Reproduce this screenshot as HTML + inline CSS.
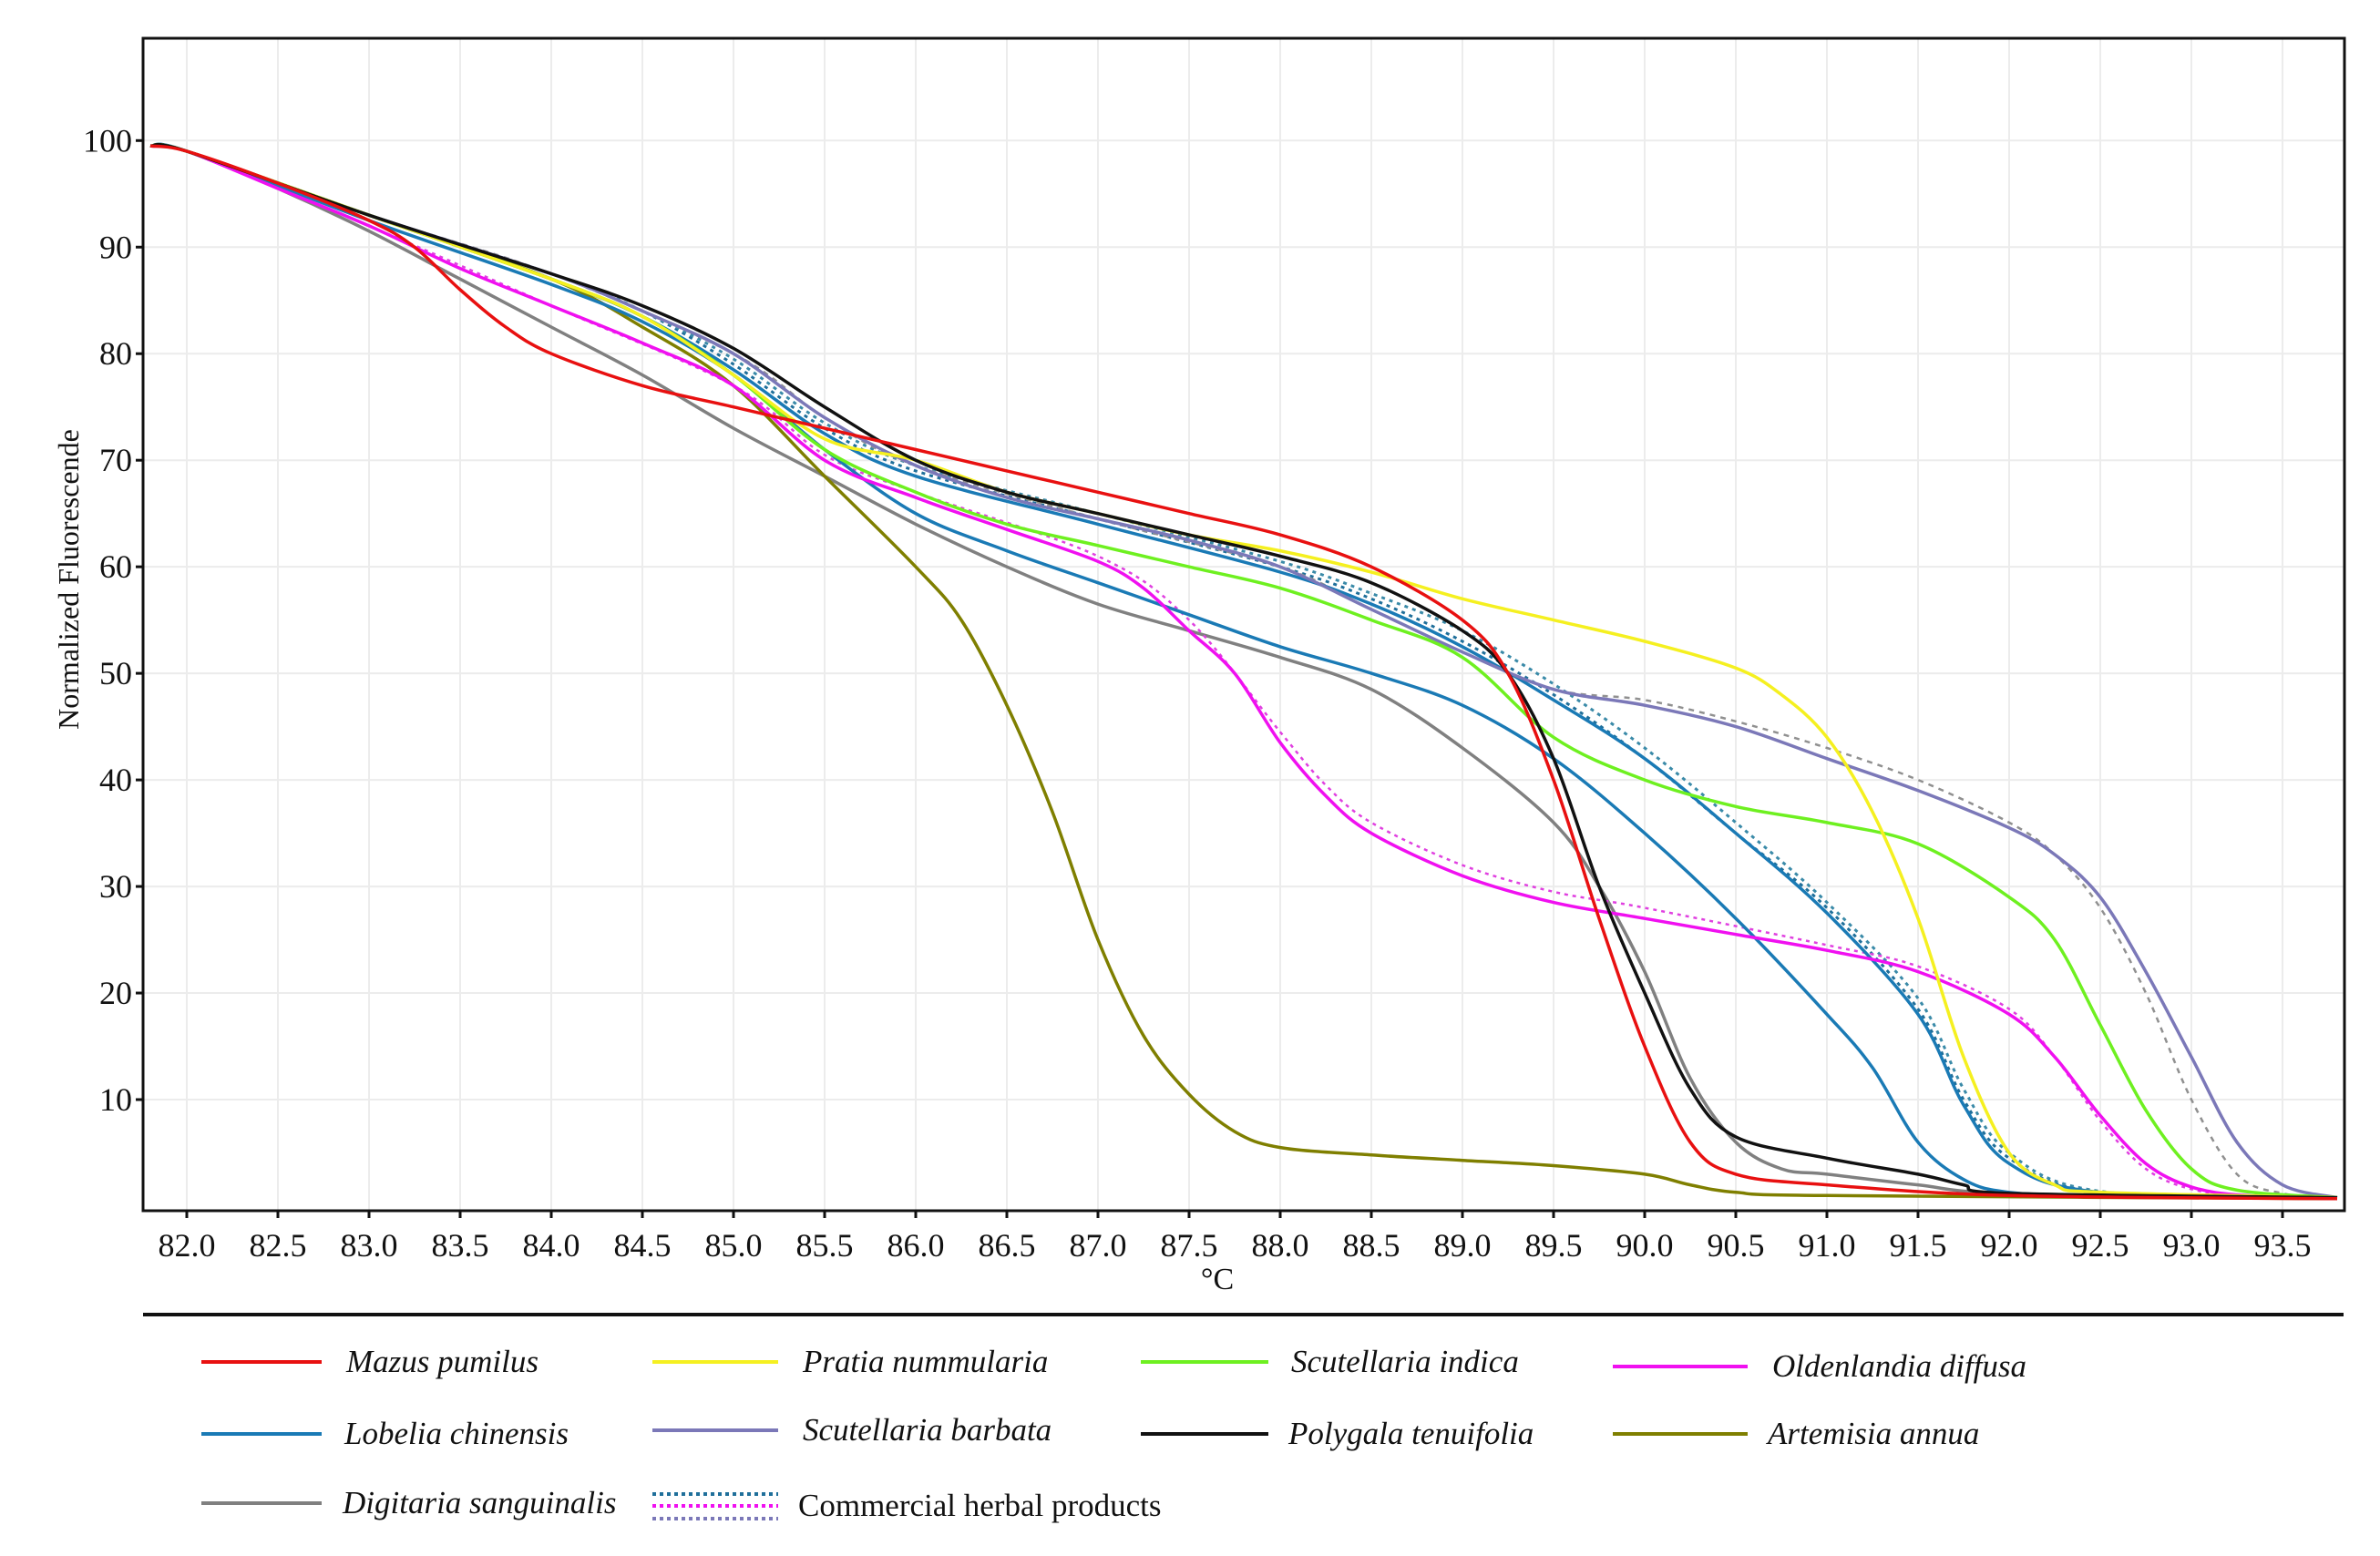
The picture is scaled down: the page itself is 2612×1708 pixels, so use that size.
<!DOCTYPE html>
<html><head><meta charset="utf-8"><style>
html,body{margin:0;padding:0;background:#fff;}
svg text{font-family:"Liberation Serif",serif;fill:#111;}
</style></head><body>
<svg id="chart" width="2612" height="1703" viewBox="0 0 2612 1703" xmlns="http://www.w3.org/2000/svg">
<g id="grid"></g>
<g id="series"></g>
<g id="axes"></g>
<g id="legend"></g>
</svg>
<script>
const xTicks=[82.0,82.5,83.0,83.5,84.0,84.5,85.0,85.5,86.0,86.5,87.0,87.5,88.0,88.5,89.0,89.5,90.0,90.5,91.0,91.5,92.0,92.5,93.0,93.5];
const yTicks=[10,20,30,40,50,60,70,80,90,100];
const mazusX=[81.8,82,82.5,83,83.25,83.5,83.75,84,84.5,85,85.5,86,86.5,87,87.5,88,88.5,89,89.25,89.5,89.75,90,90.25,90.5,91,92,93.8];
const mazusY=[99.5,99,96,92.5,90,86,82.5,80,77,75,73,71,69,67,65,63,60,55,50,40,27,15,6,3,2,1,0.7];
const pratiaX=[81.8,82,83,84,84.5,85,85.5,86,86.5,87,87.5,88,88.5,89,89.5,90,90.5,90.75,91,91.25,91.5,91.75,92,92.25,92.5,93.8];
const pratiaY=[99.5,99,93,87,83.5,78,72,70,67,65,63,61.5,59.5,57,55,53,50.5,48,44,37,27,14,5,2,1.3,0.8];
const indicaX=[81.8,82,83,84,84.5,85,85.5,86,86.5,87,87.5,88,88.5,89,89.5,90,90.5,91,91.5,92,92.25,92.5,92.75,93,93.25,93.8];
const indicaY=[99.5,99,93,87,83.5,78,71,67,64,62,60,58,55,51.5,44,40,37.5,36,34,29,25,17,9,3.5,1.5,0.8];
const oldenX=[81.8,82,82.5,83,83.5,84,84.5,85,85.5,86,86.5,87,87.25,87.5,87.75,88,88.25,88.5,89,89.5,90,90.5,91,91.5,92,92.25,92.5,92.75,93,93.3,93.8];
const oldenY=[99.5,99,95.5,92,88,84.5,81,77,70,66.5,63.5,60.5,58,54,50,43.5,38.5,35,31,28.5,27,25.5,24,22,18,14,8.5,4,1.8,1,0.8];
const lobeliaX=[81.8,82,83,84,84.5,85,85.5,86,86.5,87,87.5,88,88.5,89,89.5,90,90.5,91,91.25,91.5,91.75,92,92.5,93.8];
const lobeliaY=[99.5,99,92.5,86.5,83,78,71,65,61.5,58.5,55.5,52.5,50,47,42,35,27,18,13,6,2.5,1.3,1,0.8];
const lobelia2X=[81.8,82,83,84,84.5,85,85.5,86,87,88,88.5,89,89.5,90,90.5,91,91.5,91.75,92,92.5,93.8];
const lobelia2Y=[99.5,99,93,87,83.5,78.5,72.5,68.5,64,59.5,56.5,52.5,47.5,42,35,27.5,18,9.5,4,1.3,0.8];
const barbataX=[81.8,82,83,84,84.5,85,85.5,86,86.5,87,87.5,88,88.5,89,89.5,90,90.5,91,91.5,92,92.25,92.5,92.75,93,93.25,93.5,93.8];
const barbataY=[99.5,99,93,87.5,84,80,74,69.5,66.5,64.5,62.5,60,56,52,48.5,47,45,42,39,35.5,33,29,22,14,6,2,0.8];
const polygalaX=[81.8,82,83,84,84.5,85,85.5,86,86.5,87,87.5,88,88.5,89,89.25,89.5,89.75,90,90.25,90.5,91,91.5,91.75,92,93.8];
const polygalaY=[99.5,99,93,87.5,84.5,80.5,75,70,67,65,63,61,58.5,54,50,42,30,20,11,6.5,4.5,3,2,1.2,0.8];
const artemisiaX=[81.8,82,83,84,84.5,85,85.5,86,86.25,86.5,86.75,87,87.25,87.5,87.75,88,88.5,89,89.5,90,90.25,90.5,91,93.8];
const artemisiaY=[99.5,99,93,87,82.5,77,68.5,60,55,47,37,25,16,10.5,7,5.5,4.8,4.3,3.8,3,2,1.3,1,0.7];
const digitariaX=[81.8,82,82.5,83,83.5,84,84.5,85,85.5,86,86.5,87,87.5,88,88.5,89,89.5,89.75,90,90.25,90.5,90.75,91,91.5,92,93.8];
const digitariaY=[99.5,99,95.5,91.5,87,82.5,78,73,68.5,64,60,56.5,54,51.5,48.5,43,36,30,22,12,6,3.5,3,2,1.2,0.7];
const commBlueX=[81.8,82,83,84,84.5,85,85.5,86,87,88,88.5,89,89.5,90,90.5,91,91.5,91.75,92,92.5,93.8];
const commBlueY=[99.5,99,93,87.5,84,79,73,69,64.5,60,57,53,48,42,35,28,18.5,10,4.5,1.3,0.8];
const commBlue2X=[81.8,82,83,84,84.5,85,85.5,86,87,88,88.5,89,89.5,90,90.5,91,91.5,91.75,92,92.5,93.8];
const commBlue2Y=[99.5,99,93,87.5,84,79.5,73.5,69.5,65,60.5,57.5,54,49,43,36,28.5,19.5,11,5,1.4,0.8];
const commMagX=[81.8,82,83,84,85,85.5,86,87,87.5,88,88.25,88.5,89,89.5,90,91,91.5,92,92.25,92.5,92.75,93,93.3,93.8];
const commMagY=[99.5,99,92,84.5,77,70.5,67,61,55,44.5,39.5,36,32,29.5,28,24.5,22.5,18.5,14,8,3.5,1.6,1,0.8];
const commPurX=[81.8,82,83,84,85,85.5,86,87,88,88.5,89,89.5,90,90.5,91,91.5,92,92.25,92.5,92.75,93,93.25,93.5,93.8];
const commPurY=[99.5,99,93,87.5,80,74,69.5,64.5,60,56,52,48.5,47.5,45.5,43,40,36,33,28,20,10,3,1.2,0.8];

const X0=81.76,X1=93.84,PX0=157,PX1=2573;
const Y0=-0.43,Y1=109.6,PY0=1329,PY1=42;
const sx=v=>PX0+(v-X0)/(X1-X0)*(PX1-PX0);
const sy=v=>PY0-(v-Y0)/(Y1-Y0)*(PY0-PY1);
const NS="http://www.w3.org/2000/svg";
function mk(tag,attrs,parent){const e=document.createElementNS(NS,tag);for(const k in attrs)e.setAttribute(k,attrs[k]);parent.appendChild(e);return e;}
function smooth(xs,ys){const p=xs.map((x,i)=>[sx(x),sy(ys[i])]);let d="M"+p[0][0]+","+p[0][1];
for(let i=0;i<p.length-1;i++){const a=p[i-1]||p[i],b=p[i],c=p[i+1],e=p[i+2]||c;
const c1=[b[0]+(c[0]-a[0])/6,b[1]+(c[1]-a[1])/6],c2=[c[0]-(e[0]-b[0])/6,c[1]-(e[1]-b[1])/6];
d+=" C"+c1[0].toFixed(1)+","+c1[1].toFixed(1)+" "+c2[0].toFixed(1)+","+c2[1].toFixed(1)+" "+c[0].toFixed(1)+","+c[1].toFixed(1);}return d;}
const grid=document.getElementById('grid'),axes=document.getElementById('axes'),ser=document.getElementById('series'),leg=document.getElementById('legend');
xTicks.forEach(t=>{const g=mk('line',{x1:sx(t),x2:sx(t),y1:PY1,y2:PY0,stroke:'#ececec','stroke-width':2},grid);


const tk=mk('line',{x1:sx(t),x2:sx(t),y1:PY0,y2:PY0+8,stroke:'#111','stroke-width':3},axes);


const lb=mk('text',{x:sx(t),y:PY0+50,'font-size':36,'text-anchor':'middle'},axes);lb.textContent=t.toFixed(1);

});
yTicks.forEach(t=>{const g=mk('line',{x1:PX0,x2:PX1,y1:sy(t),y2:sy(t),stroke:'#ececec','stroke-width':2},grid);


const tk=mk('line',{x1:PX0-8,x2:PX0,y1:sy(t),y2:sy(t),stroke:'#111','stroke-width':3},axes);


const lb=mk('text',{x:PX0-12,y:sy(t)+12,'font-size':36,'text-anchor':'end'},axes);lb.textContent=t;

});
const fr=mk('rect',{x:PX0,y:PY1,width:PX1-PX0,height:PY0-PY1,fill:'none',stroke:'#111','stroke-width':3},axes);


const xt=mk('text',{x:1336,y:1415,'font-size':34,'text-anchor':'middle'},axes);xt.textContent='°C';


const yt=mk('text',{x:0,y:0,'font-size':32,'text-anchor':'middle',transform:'translate(86,636) rotate(-90)'},axes);yt.textContent='Normalized Fluorescende';



const S=[
[digitariaX,digitariaY,'#808080','',3.5,'digitaria-sanguinalis-line'],
[artemisiaX,artemisiaY,'#7f7f00','',3.5,'artemisia-annua-line'],
[commBlueX,commBlueY,'#1f6f9a','4,5',3,'commercial-blue-dotted-line'],
[commBlue2X,commBlue2Y,'#3a8aa8','4,5',3,'commercial-blue-dotted-line-2'],
[commMagX,commMagY,'#e040e0','4,5',2.5,'commercial-magenta-dotted-line'],
[commPurX,commPurY,'#909090','6,6',2.5,'commercial-purple-dashed-line'],
[lobeliaX,lobeliaY,'#1a7ab5','',3.5,'lobelia-chinensis-line'],
[lobelia2X,lobelia2Y,'#1a7ab5','',3.5,'lobelia-chinensis-line-2'],
[barbataX,barbataY,'#7b78b8','',3.5,'scutellaria-barbata-line'],
[oldenX,oldenY,'#f010f0','',3.5,'oldenlandia-diffusa-line'],
[indicaX,indicaY,'#6ef020','',3.5,'scutellaria-indica-line'],
[pratiaX,pratiaY,'#f5f020','',3.5,'pratia-nummularia-line'],
[polygalaX,polygalaY,'#111111','',3.5,'polygala-tenuifolia-line'],
[mazusX,mazusY,'#e81010','',3.5,'mazus-pumilus-line']];
S.forEach(s=>{const p=mk('path',{d:smooth(s[0],s[1]),fill:'none',stroke:s[2],'stroke-width':s[4]},ser);if(s[3])p.setAttribute('stroke-dasharray',s[3]);

});

const sep=mk('line',{x1:157,x2:2572,y1:1443,y2:1443,stroke:'#111','stroke-width':4},leg);


const L=[
[221,353,380,1495,'#e81010','Mazus pumilus'],[716,854,881,1495,'#f5f020','Pratia nummularia'],[1252,1392,1417,1495,'#6ef020','Scutellaria indica'],[1770,1918,1945,1500,'#f010f0','Oldenlandia diffusa'],
[221,353,378,1574,'#1a7ab5','Lobelia chinensis'],[716,854,881,1570,'#7b78b8','Scutellaria barbata'],[1252,1392,1414,1574,'#111111','Polygala tenuifolia'],[1770,1918,1940,1574,'#7f7f00','Artemisia annua']];
L.forEach(l=>{const ln=mk('line',{x1:l[0],x2:l[1],y1:l[3],y2:l[3],stroke:l[4],'stroke-width':4},leg);


const t=mk('text',{x:l[2],y:l[3]+11,'font-size':35,'font-style':'italic'},leg);t.textContent=l[5];

});
const dl=mk('line',{x1:221,x2:353,y1:1650,y2:1650,stroke:'#808080','stroke-width':4},leg);


const dt=mk('text',{x:376,y:1661,'font-size':35,'font-style':'italic'},leg);dt.textContent='Digitaria sanguinalis';


[['#1f6f9a',1640],['#f010f0',1653],['#7b78b8',1667]].forEach(c=>{const ln=mk('line',{x1:716,x2:854,y1:c[1],y2:c[1],stroke:c[0],'stroke-width':4,'stroke-dasharray':'4,4'},leg);

});
const ct=mk('text',{x:876,y:1664,'font-size':35},leg);ct.textContent='Commercial herbal products';


</script>
</body></html>
